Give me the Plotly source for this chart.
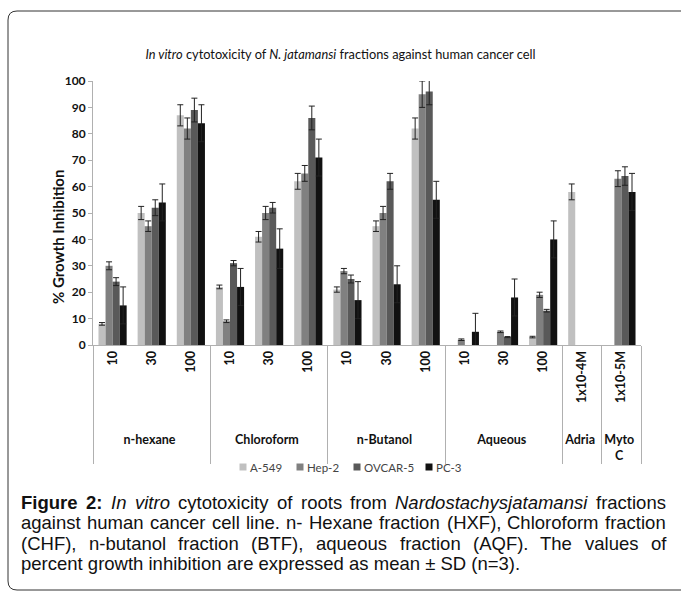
import plotly.graph_objects as go

groups = ["<br>n-hexane"]*3 + ["<br>Chloroform"]*3 + ["<br>n-Butanol"]*3 + ["<br>Aqueous"]*3 + ["<br>Adria", "<br>Myto<br>C"]
doses = ["10", "30", "100"]*4 + ["1x10-4M", "1x10-5M"]

series = ["A-549", "Hep-2", "OVCAR-5", "PC-3"]
a549 = [8, 50, 87, 22, 41, 62, 21, 45, 82, None, None, 3, 58, None]
a549_sd = [0.5, 2.5, 4, 0.7, 2, 3, 1, 2, 4, 0, 0, 0.3, 3, 0]
hep2 = [30, 45, 82, 9, 50, 65, 28, 50, 95, 2, 5, 19, None, 63]
hep2_sd = [1.5, 2, 4, 0.5, 2.5, 3, 1, 2.5, 5, 0.3, 0.3, 1, 0, 3]
ovcar = [24, 52, 89, 31, 52, 86, 25, 62, 96, None, 3, 13, None, 64]
ovcar_sd = [1.5, 3, 4.5, 1, 2, 4.5, 1.5, 3, 5, 0, 0.2, 0.5, 0, 3.5]
pc3 = [15, 54, 84, 22, 36.5, 71, 17, 23, 55, 5, 18, 40, None, 58]
pc3_sd = [7, 7, 7, 7, 7.5, 7, 7, 7, 7, 7, 7, 7, 0, 7]

values = [a549, hep2, ovcar, pc3]
errors = [a549_sd, hep2_sd, ovcar_sd, pc3_sd]
colors = ["#c0c0c0", "#808080", "#595959", "#111111"]

caption_lines = [
    "<b>Figure</b> <b>2:</b> <i>In</i> <i>vitro</i> cytotoxicity of roots from <i>Nardostachysjatamansi</i> fractions",
    "against human cancer cell line. n- Hexane fraction (HXF), Chloroform fraction",
    "(CHF), n-butanol fraction (BTF), aqueous fraction (AQF). The values of",
    "percent growth inhibition are expressed as mean ± SD (n=3).",
]

# ---- geometry (pixels) ----
W, H = 681, 599
L, R, T, B = 93, 40, 81, 254
PW, PH = W - L - R, H - T - B


def px(x):
    return (x - L) / PW


def py(y):
    return (H - B - y) / PH


fig = go.Figure()
for name, v, e, c in zip(series, values, errors, colors):
    fig.add_trace(go.Bar(
        name=name, x=[groups, doses], y=v, marker_color=c, marker_line_width=0,
        error_y=dict(type="data", array=e, visible=True, color="#222222", thickness=1, width=3),
    ))

fig.update_layout(
    width=W, height=H,
    paper_bgcolor="white", plot_bgcolor="white",
    margin=dict(l=L, r=R, t=T, b=B),
    barmode="group", bargap=0.28, bargroupgap=0,
    font=dict(family="Lato, Open Sans, sans-serif", color="#222"),
    title=dict(text="<i>In vitro</i> cytotoxicity of <i>N. jatamansi</i> fractions against human cancer cell",
               x=0.5, xanchor="center", y=1 - 55/H, yanchor="middle",
               font=dict(size=12.8, family="Lato, sans-serif", color="#111")),
    showlegend=False,
)
fig.update_yaxes(range=[0, 100], dtick=10, showgrid=False, showline=True, linecolor="#b0b0b0",
                 ticks="outside", ticklen=4, tickcolor="#b0b0b0",
                 tickfont=dict(size=12, family="Lato, sans-serif", color="#111", weight="bold"))
fig.update_xaxes(type="multicategory", showgrid=False, showline=True, linecolor="#b0b0b0",
                 tickangle=-90, ticks="", showdividers=True, dividercolor="#b0b0b0", dividerwidth=1,
                 tickfont=dict(size=12.5, family="Lato, sans-serif", color="#111", weight="bold"))

# y-axis title (placed as in the reference, slightly below the axis centre)
fig.add_annotation(text="<b>% Growth Inhibition</b>", xref="paper", yref="paper",
                   x=px(58), y=py(237), xanchor="center", yanchor="middle", textangle=-90,
                   showarrow=False, font=dict(size=15, family="Lato, sans-serif", color="#111"))

# ---- legend drawn as small squares + labels ----
leg_x = [243, 300, 357, 429]
leg_y = 467
for name, c, lx in zip(series, colors, leg_x):
    fig.add_shape(type="rect", xref="paper", yref="paper",
                  x0=px(lx - 3.5), x1=px(lx + 3.5), y0=py(leg_y + 3.5), y1=py(leg_y - 3.5),
                  fillcolor=c, line=dict(width=0))
    fig.add_annotation(text=name, xref="paper", yref="paper", x=px(lx + 5), y=py(leg_y),
                       xanchor="left", yanchor="middle", showarrow=False,
                       font=dict(size=11.5, family="Lato, sans-serif", color="#444"))

# ---- caption, first three lines justified word by word ----
REG = {' ': 569, 'a': 1139, 'b': 1139, 'c': 1024, 'd': 1139, 'e': 1139, 'f': 569, 'g': 1139, 'h': 1139,
       'i': 455, 'j': 455, 'k': 1024, 'l': 455, 'm': 1706, 'n': 1139, 'o': 1139, 'p': 1139, 'q': 1139,
       'r': 682, 's': 1024, 't': 569, 'u': 1139, 'v': 1024, 'w': 1479, 'x': 1024, 'y': 1024, 'z': 1024,
       'A': 1366, 'B': 1366, 'C': 1479, 'D': 1479, 'F': 1251, 'H': 1479, 'I': 569, 'N': 1479, 'Q': 1593,
       'S': 1366, 'T': 1251, 'X': 1366, '-': 682, '(': 682, ')': 682, ',': 569, '.': 569, ':': 569,
       '=': 1196, '±': 1124}
BOLD = {'F': 1251, 'i': 569, 'g': 1251, 'u': 1251, 'r': 797, 'e': 1139, ':': 682}
CAP_SIZE = 18.5
CAP_FONT = dict(size=CAP_SIZE, family="Liberation Sans, Arial, sans-serif", color="#111")


def word_width(w):
    bold = w.startswith("<b>")
    plain = w.replace("<b>", "").replace("</b>", "").replace("<i>", "").replace("</i>", "")
    tot = 0
    for ch in plain:
        tot += (BOLD.get(ch, 1139) if bold else REG.get(ch, 1139))
    return tot / 2048 * CAP_SIZE


cap_left, cap_right = 20, 665
line_y = [502, 522.5, 543, 563.5]
for i, line in enumerate(caption_lines):
    if i < 3:
        words = line.split(" ")
        widths = [word_width(w) for w in words]
        gap = (cap_right - cap_left - sum(widths)) / (len(words) - 1)
        x = cap_left
        for w, ww in zip(words, widths):
            fig.add_annotation(text=w, xref="paper", yref="paper", x=px(x - 1), y=py(line_y[i]),
                               xanchor="left", yanchor="middle", showarrow=False, font=CAP_FONT)
            x += ww + gap
    else:
        fig.add_annotation(text=line, xref="paper", yref="paper", x=px(cap_left - 1), y=py(line_y[i]),
                           xanchor="left", yanchor="middle", showarrow=False, font=CAP_FONT)

# ---- rounded border box ----
bx0, bx1, by0, by1, r = 8, 700, 11, 590, 9
pts = (f"M {px(bx0 + r)},{py(by0)} L {px(bx1 - r)},{py(by0)} "
       f"Q {px(bx1)},{py(by0)} {px(bx1)},{py(by0 + r)} L {px(bx1)},{py(by1 - r)} "
       f"Q {px(bx1)},{py(by1)} {px(bx1 - r)},{py(by1)} L {px(bx0 + r)},{py(by1)} "
       f"Q {px(bx0)},{py(by1)} {px(bx0)},{py(by1 - r)} L {px(bx0)},{py(by0 + r)} "
       f"Q {px(bx0)},{py(by0)} {px(bx0 + r)},{py(by0)} Z")
fig.add_shape(type="path", path=pts, xref="paper", yref="paper",
              line=dict(color="#333", width=1), layer="below")

fig.write_html("out.html", config={"displayModeBar": False},
               post_script="document.body.style.margin='0px';")
